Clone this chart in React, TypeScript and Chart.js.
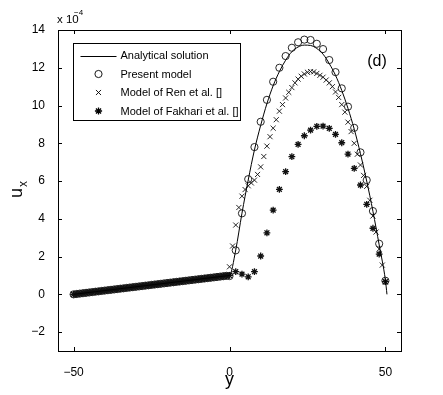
import React, { useEffect, useRef } from "react";
import { Chart, registerables } from "chart.js";

Chart.register(...registerables);

// ---------- data (u_x in units of 1e-4) ----------
const yLow = [
  -50, -49, -48, -47, -46, -45, -44, -43, -42, -41, -40, -39, -38, -37, -36, -35, -34,
  -33, -32, -31, -30, -29, -28, -27, -26, -25, -24, -23, -22, -21, -20, -19, -18, -17,
  -16, -15, -14, -13, -12, -11, -10, -9, -8, -7, -6, -5, -4, -3, -2, -1,
];
const uLow = [
  0.0, 0.02, 0.04, 0.06, 0.08, 0.1, 0.12, 0.14, 0.16, 0.18, 0.2, 0.22, 0.24, 0.26, 0.28,
  0.3, 0.32, 0.34, 0.36, 0.38, 0.4, 0.42, 0.44, 0.46, 0.48, 0.5, 0.52, 0.54, 0.56, 0.58,
  0.6, 0.62, 0.64, 0.66, 0.68, 0.7, 0.72, 0.74, 0.76, 0.78, 0.8, 0.82, 0.84, 0.86, 0.88,
  0.9, 0.92, 0.94, 0.96, 0.98,
];

const yAnalyticUp = [0, 2, 4, 6, 8, 10, 12, 14, 16, 18, 20, 22, 24, 26, 28, 30, 32, 34, 36, 38, 40, 42, 44, 46, 48, 50, 50.5];
const uAnalyticUp = [1.0, 2.35, 4.3, 6.05, 7.65, 8.95, 10.1, 11.05, 11.8, 12.4, 12.85, 13.1, 13.2, 13.18, 13.02, 12.72, 12.22, 11.6, 10.8, 9.85, 8.75, 7.45, 6.0, 4.4, 2.62, 0.75, 0.0];

const yPresentUp = [0, 2, 4, 6, 8, 10, 12, 14, 16, 18, 20, 22, 24, 26, 28, 30, 32, 34, 36, 38, 40, 42, 44, 46, 48, 50];
const uPresentUp = [0.97, 2.33, 4.29, 6.1, 7.8, 9.14, 10.3, 11.26, 12.0, 12.62, 13.06, 13.35, 13.49, 13.47, 13.27, 12.99, 12.41, 11.77, 10.91, 9.94, 8.82, 7.52, 6.05, 4.41, 2.68, 0.72];

const yRenUp = [
  0, 1, 2, 3, 4, 5, 6, 7, 8, 9, 10, 11, 12, 13, 14, 15, 16, 17, 18, 19, 20, 21, 22, 23, 24,
  25, 26, 27, 28, 29, 30, 31, 32, 33, 34, 35, 36, 37, 38, 39, 40, 41, 42, 43, 44, 45, 46,
  47, 48, 49, 50,
];
const uRenUp = [
  1.46, 2.56, 3.67, 4.6, 5.2, 5.55, 5.75, 5.9, 6.05, 6.35, 6.75, 7.3, 7.85, 8.35, 8.8, 9.25,
  9.7, 10.05, 10.4, 10.7, 10.95, 11.2, 11.4, 11.55, 11.67, 11.76, 11.8, 11.78, 11.7, 11.6,
  11.5, 11.35, 11.2, 11.0, 10.72, 10.43, 10.05, 9.65, 9.12, 8.62, 8.0, 7.42, 6.85, 6.3,
  5.72, 4.98, 4.15, 3.3, 2.4, 1.55, 0.65,
];

const yFakhariUp = [0, 2, 4, 6, 8, 10, 12, 14, 16, 18, 20, 22, 24, 26, 28, 30, 32, 34, 36, 38, 40, 42, 44, 46, 48, 50];
const uFakhariUp = [1.0, 1.2, 1.07, 0.93, 1.2, 2.03, 3.26, 4.46, 5.56, 6.5, 7.29, 7.94, 8.4, 8.7, 8.9, 8.91, 8.79, 8.47, 8.03, 7.43, 6.67, 5.79, 4.77, 3.5, 2.13, 0.67];

const xTicks = [-50, 0, 50];
const yTicks = [-2, 0, 2, 4, 6, 8, 10, 12, 14];

const legendLabels = [
  "Analytical solution",
  "Present model",
  "Model of Ren et al. []",
  "Model of Fakhari et al. []",
];

const FONT = '"Liberation Sans", Arial, Helvetica, sans-serif';

function pts(xs: number[], ys: number[]) {
  return xs.map((x, i) => ({ x, y: ys[i] }));
}

function drawMarker(ctx: CanvasRenderingContext2D, kind: string, x: number, y: number, r: number) {
  ctx.beginPath();
  if (kind === "circle") {
    ctx.arc(x, y, r, 0, Math.PI * 2);
  } else if (kind === "crossRot") {
    const d = r * Math.SQRT1_2;
    ctx.moveTo(x - d, y - d);
    ctx.lineTo(x + d, y + d);
    ctx.moveTo(x - d, y + d);
    ctx.lineTo(x + d, y - d);
  } else if (kind === "star") {
    const d = r * Math.SQRT1_2;
    ctx.moveTo(x - d, y - d);
    ctx.lineTo(x + d, y + d);
    ctx.moveTo(x - d, y + d);
    ctx.lineTo(x + d, y - d);
    ctx.moveTo(x - r, y);
    ctx.lineTo(x + r, y);
    ctx.moveTo(x, y - r);
    ctx.lineTo(x, y + r);
  }
  ctx.stroke();
}

const framePlugin = {
  id: "frame",
  afterDraw(chart: any) {
    const { ctx, chartArea: a, scales } = chart;
    const xs = scales.x;
    const ys = scales.y;
    ctx.save();
    ctx.strokeStyle = "#000";
    ctx.fillStyle = "#000";
    ctx.lineWidth = 1;
    // box
    ctx.strokeRect(Math.round(a.left) + 0.5, Math.round(a.top) + 0.5, Math.round(a.right - a.left), Math.round(a.bottom - a.top));
    // inward ticks
    const tl = 4;
    ctx.beginPath();
    for (const v of xTicks) {
      const px = Math.round(xs.getPixelForValue(v)) + 0.5;
      ctx.moveTo(px, a.bottom);
      ctx.lineTo(px, a.bottom - tl);
      ctx.moveTo(px, a.top);
      ctx.lineTo(px, a.top + tl);
    }
    for (const v of yTicks) {
      const py = Math.round(ys.getPixelForValue(v)) + 0.5;
      ctx.moveTo(a.left, py);
      ctx.lineTo(a.left + tl, py);
      ctx.moveTo(a.right, py);
      ctx.lineTo(a.right - tl, py);
    }
    ctx.stroke();

    // legend
    const lx = Math.round(a.left + 15) + 0.5;
    const ly = Math.round(a.top + 13) + 0.5;
    const lw = 167;
    const lh = 77;
    ctx.fillStyle = "#fff";
    ctx.fillRect(lx, ly, lw, lh);
    ctx.strokeRect(lx, ly, lw, lh);
    ctx.fillStyle = "#000";
    ctx.font = `11px ${FONT}`;
    ctx.textBaseline = "middle";
    ctx.textAlign = "left";
    const rowY = [12, 30.5, 49, 67.5];
    const kinds = ["line", "circle", "crossRot", "star"];
    for (let i = 0; i < 4; i++) {
      const yy = ly + rowY[i];
      const mx = lx + 25;
      if (kinds[i] === "line") {
        ctx.lineWidth = 1;
        ctx.beginPath();
        ctx.moveTo(lx + 7, Math.round(yy) + 0.5);
        ctx.lineTo(lx + 43, Math.round(yy) + 0.5);
        ctx.stroke();
      } else {
        ctx.lineWidth = kinds[i] === "star" ? 1.3 : 0.9;
        drawMarker(ctx, kinds[i], mx, yy, 3.6);
      }
      ctx.fillText(legendLabels[i], lx + 47, yy + 0.5);
    }

    // (d)
    ctx.font = `16px ${FONT}`;
    ctx.textAlign = "center";
    ctx.fillText("(d)", 377, 62);

    // x 10^-4
    ctx.font = `11.5px ${FONT}`;
    ctx.textAlign = "left";
    ctx.fillText("x 10", 57, 20);
    ctx.font = `8px ${FONT}`;
    ctx.fillText("\u22124", 74, 13);

    // x axis title
    ctx.font = `18px ${FONT}`;
    ctx.textAlign = "center";
    ctx.textBaseline = "alphabetic";
    ctx.fillText("y", (a.left + a.right) / 2, 385);

    // y axis title u_x (rotated)
    ctx.translate(22, 193);
    ctx.rotate(-Math.PI / 2);
    ctx.font = `18px ${FONT}`;
    ctx.textAlign = "center";
    ctx.fillText("u", 0, 0);
    ctx.font = `12px ${FONT}`;
    ctx.textAlign = "left";
    ctx.fillText("x", 6, 5);
    ctx.restore();
  },
};

export default function App() {
  const ref = useRef<HTMLCanvasElement>(null);
  useEffect(() => {
    if (!ref.current) return;
    const markerColor = "#111";
    const chart = new Chart(ref.current, {
      type: "scatter",
      data: {
        datasets: [
          {
            label: legendLabels[0],
            data: pts([...yLow, ...yAnalyticUp], [...uLow, ...uAnalyticUp]),
            showLine: true,
            borderColor: "#000",
            borderWidth: 1,
            pointRadius: 0,
            cubicInterpolationMode: "monotone",
            fill: false,
          },
          {
            label: legendLabels[1],
            data: pts([...yLow, ...yPresentUp], [...uLow, ...uPresentUp]),
            pointStyle: "circle",
            pointRadius: 3.6,
            backgroundColor: "rgba(0,0,0,0)",
            borderColor: markerColor,
            borderWidth: 0.9,
          },
          {
            label: legendLabels[2],
            data: pts([...yLow, ...yRenUp], [...uLow, ...uRenUp]),
            pointStyle: "crossRot",
            pointRadius: 3.6,
            borderColor: markerColor,
            borderWidth: 0.9,
          },
          {
            label: legendLabels[3],
            data: pts([...yLow, ...yFakhariUp], [...uLow, ...uFakhariUp]),
            pointStyle: "star",
            pointRadius: 3.4,
            borderColor: markerColor,
            borderWidth: 1.3,
          },
        ],
      },
      options: {
        animation: false,
        responsive: false,
        events: [],
        layout: { padding: { top: 30, right: 42, left: 0, bottom: 0 } },
        plugins: { legend: { display: false }, tooltip: { enabled: false } },
        scales: {
          x: {
            type: "linear",
            min: -55,
            max: 55,
            grid: { display: false },
            border: { display: false },
            afterBuildTicks: (axis: any) => {
              axis.ticks = xTicks.map((v) => ({ value: v }));
            },
            afterFit: (scale: any) => {
              scale.height = 44;
            },
            ticks: {
              color: "#000",
              padding: 6,
              maxRotation: 0,
              font: { family: FONT, size: 12 },
              callback: (v: any) => String(v).replace("-", "\u2212"),
            },
          },
          y: {
            type: "linear",
            min: -3,
            max: 14,
            grid: { display: false },
            border: { display: false },
            afterBuildTicks: (axis: any) => {
              axis.ticks = yTicks.map((v) => ({ value: v }));
            },
            afterFit: (scale: any) => {
              scale.width = 58;
            },
            ticks: {
              color: "#000",
              padding: 5,
              font: { family: FONT, size: 12 },
              callback: (v: any) => String(v).replace("-", "\u2212"),
            },
          },
        },
      },
      plugins: [framePlugin],
    });
    return () => chart.destroy();
  }, []);

  return (
    <div style={{ position: "absolute", left: 0, top: 0, width: 443, height: 395, background: "#fff" }}>
      <canvas ref={ref} width={443} height={395} style={{ display: "block" }} />
    </div>
  );
}
